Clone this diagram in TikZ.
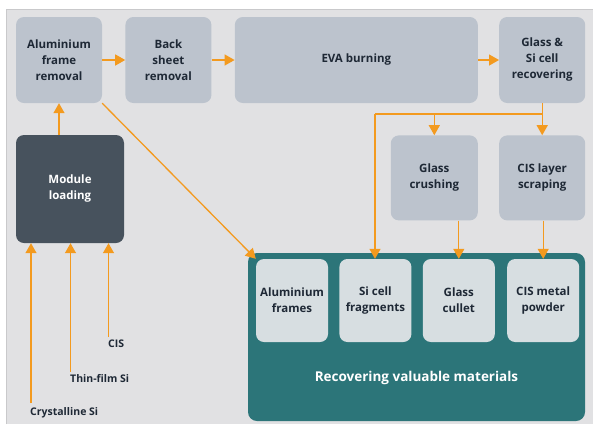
\documentclass[tikz,border=0pt]{standalone}
\usepackage{fontspec}
\setmainfont{Open Sans}
\usetikzlibrary{arrows.meta,positioning}
\definecolor{panel}{HTML}{E1E1E3}
\definecolor{panelline}{HTML}{C9C9CB}
\definecolor{boxgray}{HTML}{BCC3CD}
\definecolor{slate}{HTML}{47525D}
\definecolor{teal}{HTML}{2C7579}
\definecolor{pale}{HTML}{D7DEE1}
\definecolor{ink}{HTML}{1E2835}
\definecolor{flow}{HTML}{F39A1F}

\begin{document}
\begin{tikzpicture}
		[x=1pt,y=-1pt,
		 step box/.style={fill=boxgray,rounded corners=8pt,text=ink,align=center,inner sep=0pt,
		   minimum width=86pt,minimum height=86pt,font=\bfseries\fontsize{11.5}{16}\selectfont},
		 out box/.style={fill=pale,rounded corners=8pt,text=ink,align=center,inner sep=0pt,
		   minimum width=72pt,minimum height=83pt,font=\bfseries\fontsize{11.5}{16}\selectfont},
		 feed/.style={text=ink,anchor=north west,inner sep=0pt,font=\bfseries\fontsize{10.5}{12}\selectfont},
		 flowarrow/.style={draw=flow,line width=1.3pt,-{Triangle[width=11pt,length=10pt]}},
		 flowline/.style={draw=flow,line width=1.3pt}]
			\useasboundingbox (0,0) rectangle (593,424);
			\fill[panel] (6,9) rectangle (593,424);
			\draw[panelline,line width=0.8pt] (6,424) -- (6,9) -- (593,9);
			\node[step box] (alu) at (59,60) {Aluminium\\frame\\removal};
			\node[step box,right=23pt of alu] (back) {Back\\sheet\\removal};
			\node[step box,right=23pt of back,minimum width=243pt] (eva) {EVA burning};
			\node[step box,right=21pt of eva] (glsi) {Glass \&\\Si cell\\recovering};
			\node[step box,below=32pt of glsi,minimum height=85pt] (cisscr) {CIS layer\\scraping};
			\node[step box,left=21pt of cisscr,minimum width=87pt,minimum height=85pt] (gcrush) {Glass\\crushing};
			\node[step box,fill=slate,text=white,minimum width=108pt,minimum height=108pt] (module) at (70,189) {Module\\loading};
			\node[fill=teal,rounded corners=9pt,minimum width=337pt,minimum height=168pt,inner sep=0pt] (recov) at (416.5,337) {};
			\node[text=white,font=\bfseries\fontsize{13.5}{16}\selectfont] (recovtext) at (416.5,378) {Recovering valuable materials};
			\node[out box] (alfr) at (292,300.5) {Aluminium\\frames};
			\node[out box,right=11pt of alfr] (sifr) {Si cell\\fragments};
			\node[out box,right=11pt of sifr] (gcul) {Glass\\cullet};
			\node[out box,right=12pt of gcul] (cismp) {CIS metal\\powder};
			\node[feed] (cis) at (108,340) {CIS};
			\node[feed] (thin) at (70,374) {Thin-film Si};
			\node[feed] (cryst) at (30,407) {Crystalline Si};
			\coordinate (split) at (375,114);
			\draw[flowarrow] (alu.south |- module.north) -- (alu.south);
			\draw[flowarrow] (alu) -- (back);
			\draw[flowarrow] (back) -- (eva);
			\draw[flowarrow] (eva) -- (glsi);
			\draw[flowarrow] (glsi) -- (cisscr);
			\draw[flowline] (glsi.south) |- (split);
			\draw[flowarrow] (split) -- (split |- sifr.north);
			\draw[flowarrow] (gcrush.north |- split) -- (gcrush.north);
			\draw[flowarrow] (gcrush.south -| gcul.north) -- (gcul.north);
			\draw[flowarrow] (cisscr.south -| cismp.north) -- (cismp.north);
			\draw[flowarrow] (alu.south east) -- (alfr.north west);
			\draw[flowarrow] ([xshift=0.5pt,yshift=3pt]cis.north west) -- ([xshift=0.5pt]cis.north west |- module.south);
			\draw[flowarrow] ([xshift=0.5pt,yshift=2pt]thin.north west) -- ([xshift=0.5pt]thin.north west |- module.south);
			\draw[flowarrow] ([xshift=1pt,yshift=4pt]cryst.north west) -- ([xshift=1pt]cryst.north west |- module.south);
	\end{tikzpicture}
\end{document}
